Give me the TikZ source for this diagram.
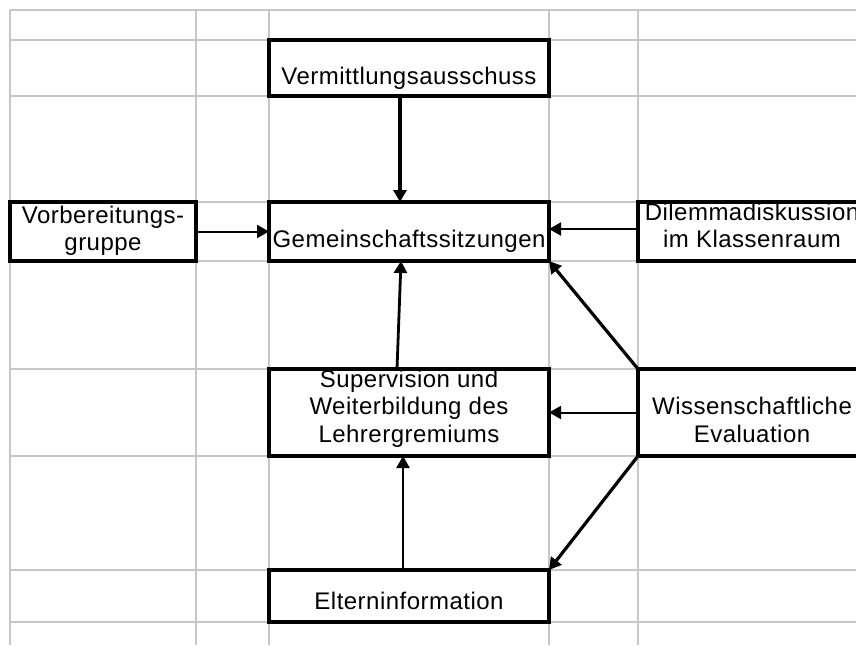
\documentclass[tikz,border=0pt]{standalone}
\usepackage{fontspec}
\setmainfont{Liberation Sans}[LetterSpace=2]
\usetikzlibrary{arrows.meta}
\newcommand{\bxt}[2]{\raisebox{#1}[0pt][0pt]{\begin{tabular}{@{}c@{}}#2\end{tabular}}}
\tikzset{
  gridline/.style={draw=black!22, line width=2pt},
  box/.style={draw=black, fill=white, line width=3.5pt, rectangle, inner sep=0pt, outer sep=0pt,
    font=\fontsize{24}{27.5}\selectfont},
  arr/.style={draw=black, line width=2pt, -{Triangle[width=13pt,length=12pt]}},
  thickarr/.style={arr, line width=3.2pt}
}
\begin{document}
\begin{tikzpicture}[x=1pt,y=-1pt]
\useasboundingbox (0,0) rectangle (856,645);
\clip (0,0) rectangle (856,645);
\fill[white] (0,0) rectangle (856,645);
% grid
\foreach \gx in {10,196,269,549,638} \draw[gridline] (\gx,9) -- (\gx,645);
\foreach \gy in {10,40,96,202,261,369,456,570,622} \draw[gridline] (9,\gy) -- (856,\gy);
% boxes
\node[box, minimum width=280pt, minimum height=56pt] (verm) at (409,68) {\bxt{-17pt}{Vermittlungsausschuss}};
\node[box, minimum width=186pt, minimum height=59pt] (vorb) at (103,231.5) {\bxt{-6pt}{Vorbereitungs-\\gruppe}};
\node[box, minimum width=280pt, minimum height=59pt] (gem) at (409,231.5) {\bxt{-16.5pt}{Gemeinschaftssitzungen}};
\node[box, minimum width=228pt, minimum height=59pt] (dil) at (752,231.5) {\bxt{-3pt}{Dilemmadiskussion\\im Klassenraum}};
\node[box, minimum width=280pt, minimum height=87pt] (sup) at (409,412.5) {\bxt{-3pt}{Supervision und\\Weiterbildung des\\Lehrergremiums}};
\node[box, minimum width=228pt, minimum height=87pt] (wiss) at (752,412.5) {\bxt{-16.5pt}{Wissenschaftliche\\Evaluation}};
\node[box, minimum width=280pt, minimum height=52pt] (elt) at (409,596) {\bxt{-14pt}{Elterninformation}};
% connectors
\draw[thickarr, line width=3.8pt] ([xshift=-9pt]verm.south) -- ([xshift=-9pt]gem.north);
\draw[arr] (vorb.east) -- (gem.west);
\draw[arr] ([yshift=2.5pt]dil.west) -- ([yshift=2.5pt]gem.east);
\draw[thickarr, line width=2.8pt] ([xshift=-12pt]sup.north) -- ([xshift=-8pt]gem.south);
\draw[thickarr] (wiss.north west) -- (gem.south east);
\draw[arr] (wiss.west) -- (sup.east);
\draw[thickarr] (wiss.south west) -- (elt.north east);
\draw[arr, line width=2.5pt] ([xshift=-6pt]elt.north) -- ([xshift=-6pt]sup.south);
\end{tikzpicture}
\end{document}
